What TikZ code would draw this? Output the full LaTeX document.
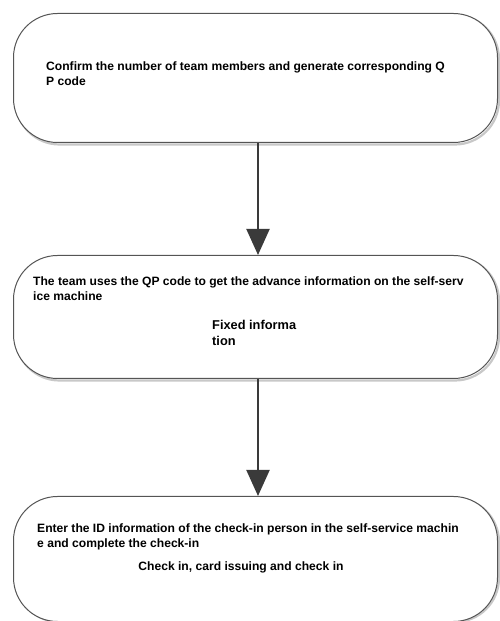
\documentclass[tikz,border=0pt]{standalone}
\usepackage{fontspec}
\setmainfont{Liberation Sans}
\usetikzlibrary{arrows.meta}
\definecolor{linecol}{HTML}{555555}
\definecolor{arrcol}{HTML}{3A3A3A}
\definecolor{shadowcol}{HTML}{C8C8C8}
\tikzset{
  stepbox/.style={draw=linecol, line width=1pt, fill=white, rounded corners=44pt},
  boxshadow/.style={draw=shadowcol, line width=2.2pt, rounded corners=44pt},
  flowarrow/.style={draw=arrcol, line width=2pt, -{Triangle[length=26pt,width=23pt]}},
  txt/.style={inner sep=0pt, anchor=north west, align=left, font=\fontsize{12.1}{14.5}\selectfont\bfseries, text=black},
  bigtxt/.style={txt, font=\fontsize{12.8}{16.5}\selectfont\bfseries},
}
\begin{document}
\begin{tikzpicture}[x=1pt,y=1pt]
\useasboundingbox (0,0) rectangle (499,621);
% shadows
\draw[boxshadow] (15.5,621-144.5) rectangle (499,621-15);
\draw[boxshadow] (15.5,621-380.5) rectangle (499,621-257);
\draw[boxshadow] (15.5,621-622) rectangle (499,621-498);
% boxes
\node[stepbox, minimum width=484pt, minimum height=129pt, anchor=north west] (b1) at (13,621-13) {};
\node[stepbox, minimum width=484pt, minimum height=123pt, anchor=north west] (b2) at (13,621-255) {};
\node[stepbox, minimum width=484pt, minimum height=125pt, anchor=north west] (b3) at (13,621-496) {};
% texts
\node[txt] (t1) at (46,621-62) {Confirm the number of team members and generate corresponding Q\\P code};
\node[txt] (t2) at (33,621-277) {The team uses the QP code to get the advance information on the self-serv\\ice machine};
\node[bigtxt] (t2b) at (212,621-320) {Fixed informa\\tion};
\node[txt] (t3) at (37,621-524) {Enter the ID information of the check-in person in the self-service machin\\e and complete the check-in};
\node[txt, anchor=north] (t3b) at (241,621-562) {Check in, card issuing and check in};
% arrows
\draw[flowarrow] (b1.south -| 258,0) -- (b2.north -| 258,0);
\draw[flowarrow] (b2.south -| 258,0) -- (b3.north -| 258,0);
\end{tikzpicture}
\end{document}
